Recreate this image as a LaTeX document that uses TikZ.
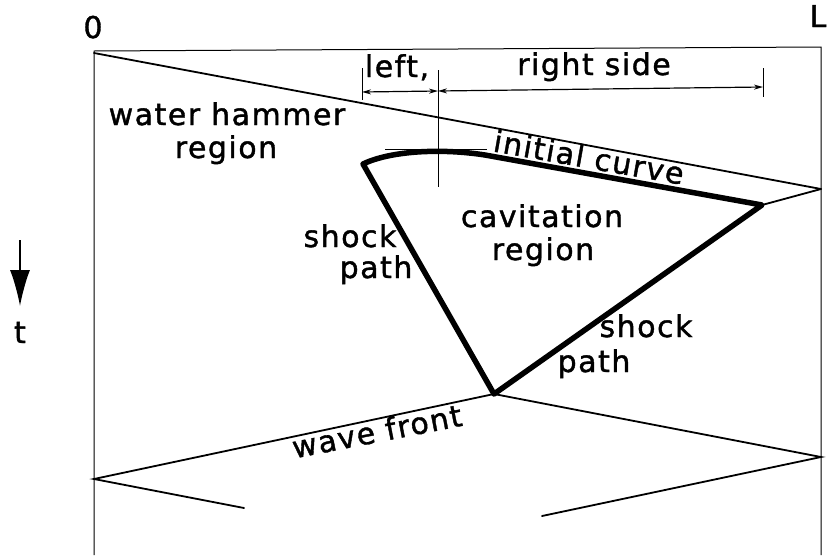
\documentclass[tikz,border=0pt]{standalone}
\usepackage{fontspec}
\setmainfont{DejaVu Sans}[LetterSpace=5,FakeBold=1.3]
\usetikzlibrary{arrows.meta}
\begin{document}
\begin{tikzpicture}[x=1pt,y=-1pt,
  lbl/.style={font=\fontsize{30}{32}\selectfont, inner sep=0pt, anchor=base},
  frameline/.style={line width=1pt},
  waveline/.style={line width=1.8pt, line cap=round},
  heavy/.style={line width=5.5pt, line join=round, line cap=round},
  tickline/.style={line width=1pt},
  dimline/.style={line width=1.2pt, {Stealth[length=9pt,width=5pt]}-{Stealth[length=9pt,width=5pt]}}
]
\useasboundingbox (0,0) rectangle (827,555);
% frame
\coordinate (TL) at (94,51);
\coordinate (TR) at (821,47);
\coordinate (BL) at (94,555);
\coordinate (BR) at (821,555);
\draw[frameline] (BL) -- (TL) -- (TR) -- (BR);
% first wave
\coordinate (W0) at (94,53);
\coordinate (WR) at (821,189);
\draw[waveline] (W0) -- (WR);
% cavitation region corners
\coordinate (CA) at (363,164);
\coordinate (CB) at (485,155);
\coordinate (CC) at (762,205);
\coordinate (CD) at (494,394);
\draw[waveline] (WR) -- (CC);
\draw[heavy] (CC) -- (CD) -- (CA) .. controls (390,151) and (440,148) .. (CB) -- cycle;
% wave front
\coordinate (FL) at (94,479);
\coordinate (FR) at (821,457);
\coordinate (FE1) at (244,508);
\coordinate (FE2) at (542,516);
\draw[waveline] (FE1) -- (FL) -- (CD) -- (FR) -- (FE2);
% dimension lines
\coordinate (DT1a) at (362,68);  \coordinate (DT1b) at (362,100);
\coordinate (DT2a) at (438,70);  \coordinate (DT2b) at (438,187);
\coordinate (DT3a) at (763,68);  \coordinate (DT3b) at (763,97);
\draw[tickline] (DT1a) -- (DT1b);
\draw[tickline] (DT2a) -- (DT2b);
\draw[tickline] (DT3a) -- (DT3b);
\coordinate (D1) at (362,92);
\coordinate (D2) at (438,91);
\coordinate (D3) at (763,87);
\draw[dimline] (D1) -- (D2);
\draw[dimline] (D2) -- (D3);
% tangent line
\coordinate (H1) at (385,149);
\coordinate (H2) at (487,149);
\draw[tickline] (H1) -- (H2);
% time arrow
\coordinate (TA) at (20,240);
\coordinate (TB) at (20,306);
\draw[line width=1.5pt, -{Latex[length=36pt,width=20pt]}] (TA) -- (TB);
% labels
\node[lbl] (zero) at (93,38) {0};
\node[lbl] (ell) at (818,27) {L};
\node[lbl] (tlab) at (20,343) {t};
\node[lbl] (left) at (397,77) {left,};
\node[lbl] (right) at (594,75) {right side};
\node[lbl] (wh1) at (227,125) {water hammer};
\node[lbl] (wh2) at (226,158) {region};
\node[lbl, rotate=-10] (init) at (587,168) {initial curve};
\node[lbl] (cav1) at (542,227) {cavitation};
\node[lbl] (cav2) at (543,260) {region};
\node[lbl] (sp1) at (350,247) {shock};
\node[lbl] (sp2) at (376,278) {path};
\node[lbl] (sp3) at (646,337) {shock};
\node[lbl] (sp4) at (594,372) {path};
\node[lbl, rotate=11] (wf) at (379,442) {wave front};
\end{tikzpicture}
\end{document}
